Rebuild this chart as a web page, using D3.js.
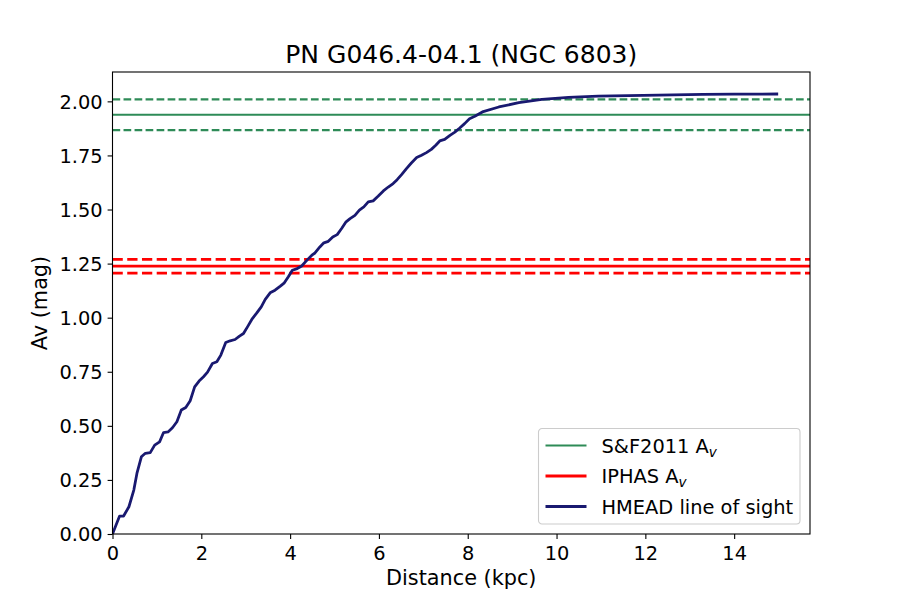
<!DOCTYPE html>
<html>
<head>
<meta charset="utf-8">
<script src="https://cdn.jsdelivr.net/npm/d3@7"></script>
<style>
  body { margin: 0; background: #fff; }
  svg { font-family: "DejaVu Sans", sans-serif; }
</style>
</head>
<body>
<div id="wrapper"></div>
<script>
// DATA
const TITLE = `PN G046.4-04.1 (NGC 6803)`;
const xTicks = [0, 2, 4, 6, 8, 10, 12, 14];
const yTicks = [0, 0.25, 0.5, 0.75, 1.0, 1.25, 1.5, 1.75, 2.0];

const distKpc = [
  0, 0.16, 0.25, 0.37, 0.48, 0.55, 0.65, 0.74, 0.85, 0.95,
  1.06, 1.15, 1.25, 1.35, 1.45, 1.55, 1.65, 1.75, 1.85, 1.95,
  2.05, 2.14, 2.25, 2.35, 2.44, 2.55, 2.65, 2.76, 2.86, 2.95,
  3.05, 3.15, 3.25, 3.35, 3.44, 3.55, 3.66, 3.78, 3.87, 3.96,
  4.05, 4.16, 4.26, 4.38, 4.49, 4.56, 4.67, 4.76, 4.86, 4.96,
  5.06, 5.16, 5.26, 5.35, 5.46, 5.56, 5.66, 5.76, 5.87, 5.98,
  6.10, 6.21, 6.32, 6.41, 6.51, 6.62, 6.73, 6.85, 6.96, 7.07,
  7.18, 7.28, 7.37, 7.48, 7.60, 7.71, 7.82, 7.93, 8.04, 8.16,
  8.33, 8.70, 9.15, 9.67, 10.27, 10.94, 12.29, 13.3, 14.0, 14.96
];
const avMag = [
  0, 0.083, 0.083, 0.126, 0.203, 0.28, 0.357, 0.373, 0.376, 0.411,
  0.426, 0.469, 0.472, 0.491, 0.519, 0.573, 0.585, 0.616, 0.68, 0.707,
  0.727, 0.748, 0.788, 0.796, 0.827, 0.885, 0.893, 0.899, 0.915, 0.927,
  0.961, 0.996, 1.022, 1.05, 1.085, 1.115, 1.127, 1.146, 1.161, 1.189,
  1.219, 1.227, 1.239, 1.266, 1.289, 1.299, 1.327, 1.346, 1.353, 1.373,
  1.384, 1.412, 1.443, 1.458, 1.473, 1.497, 1.512, 1.535, 1.54, 1.561,
  1.586, 1.604, 1.62, 1.638, 1.661, 1.689, 1.715, 1.74, 1.751, 1.763,
  1.778, 1.797, 1.817, 1.824, 1.843, 1.858, 1.877, 1.897, 1.92, 1.931,
  1.951, 1.974, 1.994, 2.009, 2.018, 2.024, 2.029, 2.032, 2.033, 2.034
];

// reference extinctions: value, uncertainty
const sfAv = [1.938, 0.071];
const iphasAv = [1.238, 0.032];

// GRAPH
const W = 900, H = 600;
const margin = { top: 72, right: 90, bottom: 66, left: 112.5 };
const width = W - margin.left - margin.right;
const height = H - margin.top - margin.bottom;

const svg = d3.select(`#wrapper`)
  .append(`svg`)
  .attr(`width`, W)
  .attr(`height`, H);

const g = svg.append(`g`)
  .attr(`transform`, `translate(${margin.left}, ${margin.top})`);

// SCALES
const xMax = d3.max(distKpc) * 1.05;
const yMax = d3.max(avMag) * 1.05;
const xScale = d3.scaleLinear().domain([0, xMax]).range([0, width]);
const yScale = d3.scaleLinear().domain([0, yMax]).range([height, 0]);

g.append(`clipPath`).attr(`id`, `clip`)
  .append(`rect`).attr(`width`, width).attr(`height`, height);

const plot = g.append(`g`).attr(`clip-path`, `url(#clip)`);

// horizontal reference lines
const hline = (val, color, lw, dashed) => {
  plot.append(`line`)
    .attr(`x1`, 0).attr(`x2`, width)
    .attr(`y1`, yScale(val)).attr(`y2`, yScale(val))
    .attr(`stroke`, color)
    .attr(`stroke-width`, lw)
    .attr(`stroke-dasharray`, dashed ? `${3.7 * lw},${1.6 * lw}` : null);
};

hline(sfAv[0], `#2e8b57`, 2.08, false);
hline(sfAv[0] + sfAv[1], `#2e8b57`, 2.08, true);
hline(sfAv[0] - sfAv[1], `#2e8b57`, 2.08, true);

hline(iphasAv[0], `red`, 2.78, false);
hline(iphasAv[0] + iphasAv[1], `red`, 2.78, true);
hline(iphasAv[0] - iphasAv[1], `red`, 2.78, true);

const line = d3.line()
  .x((d, i) => xScale(distKpc[i]))
  .y(d => yScale(d));

plot.append(`path`)
  .datum(avMag)
  .attr(`fill`, `none`)
  .attr(`stroke`, `#191970`)
  .attr(`stroke-width`, 2.78)
  .attr(`stroke-linejoin`, `round`)
  .attr(`stroke-linecap`, `square`)
  .attr(`d`, line);

// AXIS
const xAxis = d3.axisBottom(xScale)
  .tickValues(xTicks)
  .tickSize(4.9)
  .tickPadding(4.9)
  .tickFormat(d3.format(`d`));

const yAxis = d3.axisLeft(yScale)
  .tickValues(yTicks)
  .tickSize(4.9)
  .tickPadding(4.9)
  .tickFormat(d3.format(`.2f`));

const styleAxis = ax => {
  ax.select(`.domain`).remove();
  ax.selectAll(`.tick line`).attr(`stroke`, `#000`).attr(`stroke-width`, 1.1);
  ax.selectAll(`.tick text`)
    .attr(`fill`, `#000`)
    .style(`font-size`, `19.4px`)
    .style(`font-family`, `"DejaVu Sans", sans-serif`);
};

g.append(`g`)
  .attr(`transform`, `translate(0, ${height})`)
  .call(xAxis)
  .call(styleAxis)
  .selectAll(`.tick text`).attr(`dy`, `0.85em`);

g.append(`g`)
  .call(yAxis)
  .call(styleAxis)
  .selectAll(`.tick text`).attr(`dy`, `0.36em`);

// frame
g.append(`rect`)
  .attr(`width`, width)
  .attr(`height`, height)
  .attr(`fill`, `none`)
  .attr(`stroke`, `#000`)
  .attr(`stroke-width`, 1.1);

// LABELS
svg.append(`text`)
  .attr(`x`, margin.left + width / 2)
  .attr(`y`, 63)
  .attr(`text-anchor`, `middle`)
  .style(`font-size`, `25px`)
  .text(TITLE);

svg.append(`text`)
  .attr(`x`, margin.left + width / 2)
  .attr(`y`, 585)
  .attr(`text-anchor`, `middle`)
  .style(`font-size`, `20.8px`)
  .text(`Distance (kpc)`);

svg.append(`text`)
  .attr(`transform`, `translate(47, ${margin.top + height / 2}) rotate(-90)`)
  .attr(`text-anchor`, `middle`)
  .style(`font-size`, `20.8px`)
  .text(`Av (mag)`);

// LEGEND
const legendItems = [
  { label: `S&F2011 A`, sub: `v`, color: `#2e8b57`, lw: 2.08 },
  { label: `IPHAS A`, sub: `v`, color: `red`, lw: 2.78 },
  { label: `HMEAD line of sight`, sub: null, color: `#191970`, lw: 2.78 }
];

const legend = svg.append(`g`).attr(`transform`, `translate(538.5, 428.5)`);

legend.append(`rect`)
  .attr(`width`, 261.5)
  .attr(`height`, 95.5)
  .attr(`rx`, 3.5)
  .attr(`fill`, `#fff`)
  .attr(`fill-opacity`, 0.8)
  .attr(`stroke`, `#cccccc`)
  .attr(`stroke-width`, 1.1);

const rows = legend.selectAll(`.row`)
  .data(legendItems)
  .enter()
  .append(`g`)
  .attr(`class`, `row`)
  .attr(`transform`, (d, i) => `translate(0, ${17 + i * 30.5})`);

rows.append(`line`)
  .attr(`x1`, 7).attr(`x2`, 48)
  .attr(`stroke`, d => d.color)
  .attr(`stroke-width`, d => d.lw);

const labels = rows.append(`text`)
  .attr(`x`, 63)
  .attr(`y`, 7)
  .style(`font-size`, `19.4px`)
  .text(d => d.label);

labels.filter(d => d.sub)
  .append(`tspan`)
  .attr(`dy`, 4)
  .style(`font-size`, `13.6px`)
  .style(`font-style`, `italic`)
  .text(d => d.sub);
</script>
</body>
</html>
